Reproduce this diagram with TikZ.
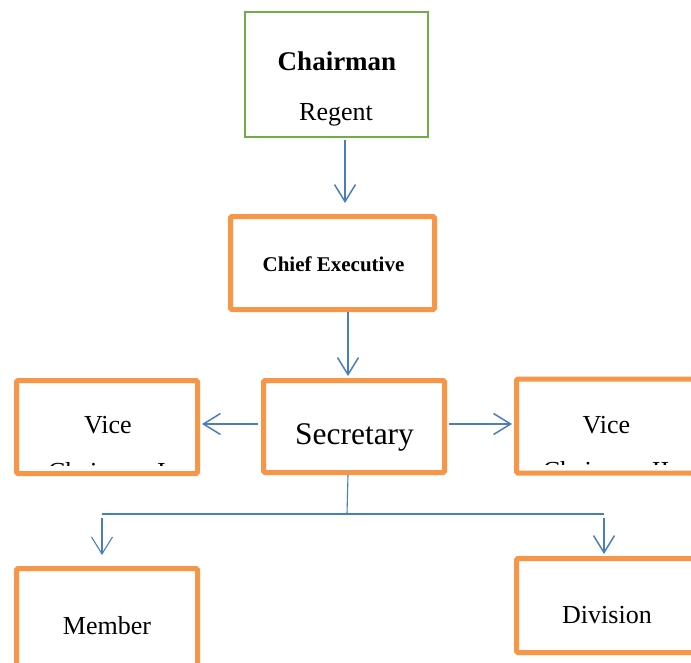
\documentclass[tikz,border=0pt]{standalone}
\usepackage{fontspec}
\setmainfont{Liberation Serif}
\usetikzlibrary{arrows.meta}
\definecolor{boxorange}{HTML}{F79646}
\definecolor{boxgreen}{HTML}{70AD47}
\definecolor{linkblue}{HTML}{4A7EBB}
\tikzset{
  obox/.style={draw=boxorange, line width=5pt, rounded corners=1.5pt, minimum width=181pt, minimum height=93pt, inner sep=0pt},
  gbox/.style={draw=boxgreen, line width=2pt, minimum width=183pt, minimum height=125pt, inner sep=0pt},
  txt/.style={anchor=base, inner sep=0pt, font=\fontsize{26}{31}\selectfont},
  link/.style={draw=linkblue, line width=1.5pt, -{Straight Barb[length=17pt,width=21pt,line width=1.5pt]}},
  thinlink/.style={draw=linkblue, line width=1.1pt, -{Straight Barb[length=17pt,width=21pt,line width=1.1pt]}},
  bar/.style={draw=linkblue, line width=1.1pt}
}
\begin{document}
\begin{tikzpicture}[x=1pt,y=-1pt]
\useasboundingbox (0,0) rectangle (691,662);
% boxes
\node[gbox] (chair) at (336.5,74.5) {};
\node[obox, minimum width=204pt] (chief) at (332.5,263) {};
\node[obox, minimum height=92pt] (sec) at (354,426.5) {};
\node[obox] (vl) at (107,427) {};
\node[obox, minimum height=94pt] (vr) at (607,426) {};
\node[obox, minimum height=99pt] (member) at (107,618) {};
\node[obox, minimum height=94pt] (div) at (607,605.5) {};
% texts
\node[txt, font=\fontsize{27}{32}\selectfont\bfseries] (tchair) at (337,70) {Chairman};
\node[txt] (tregent) at (336,120) {Regent};
\node[txt, font=\fontsize{21}{25}\selectfont\bfseries] (tchief) at (333.5,271) {Chief Executive};
\node[txt, font=\fontsize{31.5}{37}\selectfont] (tsec) at (354.5,444) {Secretary};
\node[txt] (tvl) at (108,433) {Vice};
\node[txt] (tvr) at (606.5,433) {Vice};
\begin{scope}
  \clip (19,383) rectangle (195,465);
  \node[txt] (tvl2) at (107,480) {Chairman I};
\end{scope}
\begin{scope}
  \clip (519,382) rectangle (695,464);
  \node[txt] (tvr2) at (606,479) {Chairman II};
\end{scope}
\node[txt] (tmember) at (107,634) {Member};
\node[txt] (tdiv) at (607,623) {Division};
% connectors
\draw[link, shorten <=2pt, shorten >=11pt] (chair.south -| 345,0) -- (chief.north -| 345,0);
\draw[link, shorten >=2pt] (chief.south -| 348,0) -- (sec.north -| 348,0);
\draw[link, shorten <=3pt, shorten >=2pt] (sec.west |- 0,424) -- (vl.east |- 0,424);
\draw[link, shorten <=2pt, shorten >=2pt] (sec.east |- 0,424) -- (vr.west |- 0,424);
\coordinate (jn) at (347,514);
\coordinate (hl) at (102,514);
\coordinate (hr) at (604,514);
\coordinate (al) at (102,518);
\coordinate (ar) at (604,518);
\draw[bar] (sec.south -| 348,0) -- (jn);
\draw[bar] (hl) -- (hr);
\draw[thinlink, shorten >=11pt] (al) -- (al |- member.north);
\draw[link, shorten >=2pt] (ar) -- (ar |- div.north);
\end{tikzpicture}
\end{document}
